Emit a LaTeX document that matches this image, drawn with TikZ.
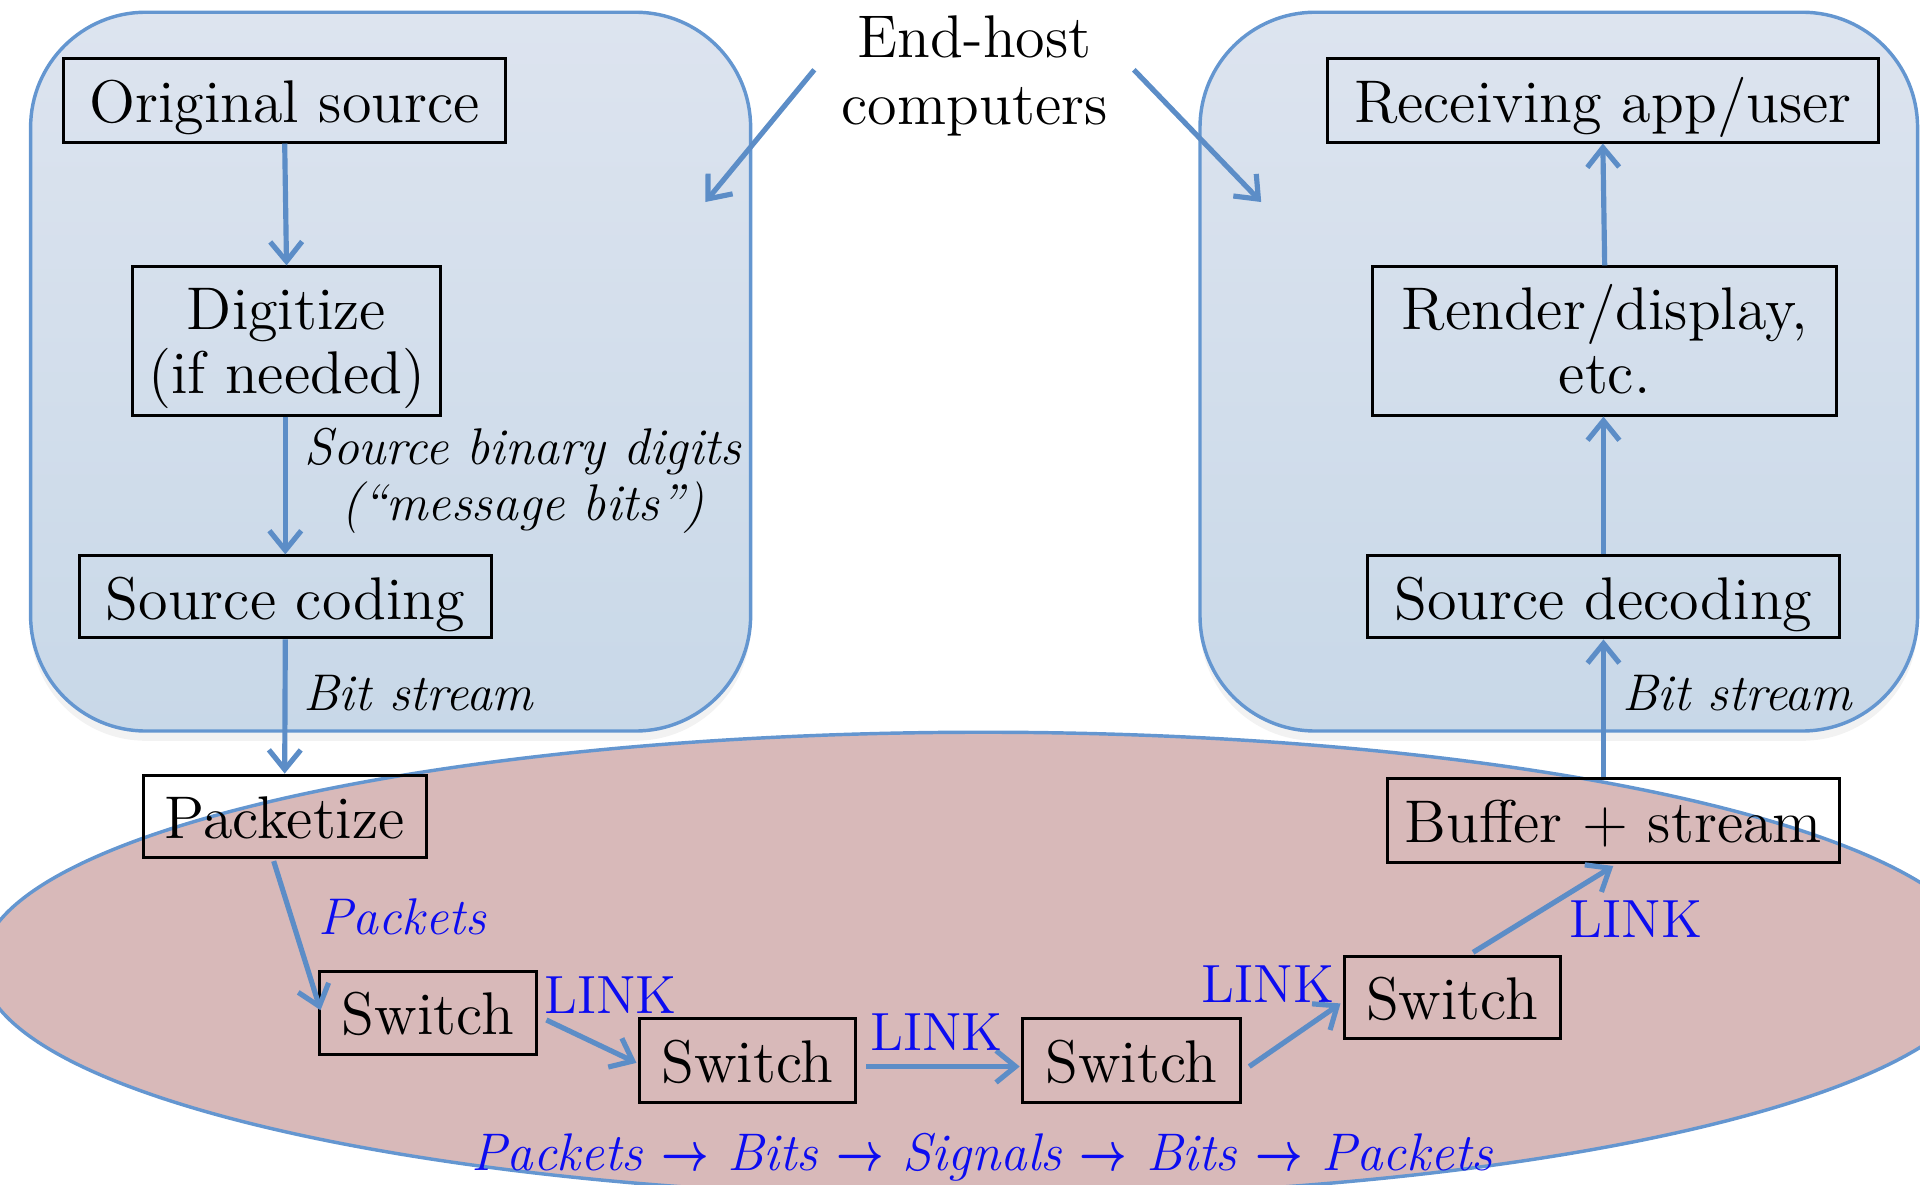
\documentclass[tikz,border=0pt]{standalone}
\usepackage{amsmath}
\usetikzlibrary{arrows.meta,shapes.geometric,calc,shadows}
\definecolor{arrblue}{RGB}{92,141,199}
\definecolor{hostedge}{RGB}{100,150,208}
\definecolor{hosttop}{RGB}{221,228,239}
\definecolor{hostbot}{RGB}{200,216,232}
\definecolor{netfill}{RGB}{216,185,185}
\definecolor{txtblue}{RGB}{12,12,240}
\newcommand{\firstline}{\rule{0pt}{13.1pt}}
\newcommand{\lastline}{\rule[-3.5pt]{0pt}{0pt}}
\newcommand{\seqarrow}{\scalebox{0.8}[1.05]{$\boldsymbol{\rightarrow}$}}
\begin{document}
\begin{tikzpicture}[x=0.1mm,y=-0.1mm,
  box/.style={draw=black,line width=0.7pt,inner sep=0pt,align=center,font=\fontsize{14}{15}\selectfont},
  onebox/.style={box,text height=13pt,text depth=2.7pt},
  conn/.style={draw=arrblue,line width=1.2pt,-{Straight Barb[length=1.6mm,width=2.6mm]}},
  lbl/.style={font=\fontsize{12}{13}\selectfont\itshape,align=center,inner sep=0pt},
  blbl/.style={lbl,text=txtblue},
  linklbl/.style={font=\fontsize{12.5}{14}\selectfont,text=txtblue,inner sep=0pt},
  host/.style={draw=hostedge,line width=0.8pt,top color=hosttop,bottom color=hostbot,rounded corners=9.4mm,
    drop shadow={opacity=0.1,shadow xshift=0mm,shadow yshift=-0.8mm}},
  net/.style={draw=hostedge,line width=0.8pt,fill=netfill}
]
\useasboundingbox (0,0) rectangle (1568,967);

% network ellipse
\path[net] (803,788) ellipse [x radius=81.8mm, y radius=19mm];

% end-host regions
\path[host] (25,10) rectangle (613,597);
\path[host] (980,10) rectangle (1566,597);

% boxes
\node[onebox,minimum width=36.1mm,minimum height=6.8mm] (os) at (232.5,82) {Original source};
\node[box,minimum width=25.2mm,minimum height=12.1mm] (dg) at (234,278.5) {\firstline Digitize\\(if needed)\lastline};
\node[onebox,minimum width=33.6mm,minimum height=6.7mm] (sc) at (233,487.5) {Source coding};
\node[onebox,minimum width=23.1mm,minimum height=6.7mm] (pz) at (232.5,666.5) {Packetize};
\node[onebox,minimum width=17.7mm,minimum height=6.8mm] (s1) at (349.5,827) {Switch};
\node[onebox,minimum width=17.7mm,minimum height=6.8mm] (s2) at (610.5,866) {Switch};
\node[onebox,minimum width=17.8mm,minimum height=6.8mm] (s3) at (924,866) {Switch};
\node[onebox,minimum width=17.6mm,minimum height=6.7mm] (s4) at (1186,814.5) {Switch};
\node[onebox,minimum width=36.9mm,minimum height=6.8mm] (bf) at (1317.5,670) {Buffer + stream};
\node[onebox,minimum width=38.5mm,minimum height=6.7mm] (sd) at (1309.5,487.5) {Source decoding};
\node[box,minimum width=37.9mm,minimum height=12.1mm] (rd) at (1310.5,278.5) {\firstline Render/display,\\etc.\lastline};
\node[onebox,minimum width=45mm,minimum height=6.8mm] (ra) at (1309,82) {Receiving app/user};

% end-host title
\node[font=\fontsize{14}{15.5}\selectfont,align=center,inner sep=0pt] (eh) at (796,62) {End-host\\computers};
\coordinate (ehl) at (665,57);
\coordinate (ehlt) at (576,165);
\coordinate (ehr) at (926,57);
\coordinate (ehrt) at (1030,165);
\draw[conn] (ehl) -- (ehlt);
\draw[conn] (ehr) -- (ehrt);

% connectors
\draw[conn] (os.south) -- (dg.north);
\draw[conn] (dg.south -| sc.north) -- (sc.north);
\draw[conn] (sc.south) -- (pz.north);
\draw[conn] ($(pz.south)+(-9,2)$) -- ($(s1.west)+(2,-2)$);
\draw[conn] ($(s1.east)+(7,6)$) -- ($(s2.west)+(-1,2)$);
\draw[conn] ($(s2.east)+(7,5)$) -- ($(s3.west)+(-1,5)$);
\draw[conn] ($(s3.east)+(6,5)$) -- ($(s4.west)+(-2,5)$);
\draw[conn] ($(s4.north)+(17,-2)$) -- ($(bf.south)+(0,2)$);
\draw[conn] (sd.south |- bf.north) -- (sd.south);
\draw[conn] (sd.north) -- (rd.south -| sd.north);
\draw[conn] (rd.north) -- (ra.south);

% labels
\node[lbl] (sbd) at (427,393) {Source binary digits\\(``message bits'')};
\node[lbl] (bs1) at (341.5,566) {Bit stream};
\node[lbl] (bs2) at (1418.5,566) {Bit stream};
\node[blbl] (pkl) at (328.5,749) {Packets};
\node[linklbl] (l1) at (498.5,813) {LINK};
\node[linklbl] (l2) at (765,843) {LINK};
\node[linklbl] (l3) at (1035.5,804) {LINK};
\node[linklbl] (l4) at (1336,751) {LINK};
\node[blbl,font=\fontsize{12.3}{13}\selectfont\itshape] (seq) at (802,945) {Packets \seqarrow{} Bits \seqarrow{} Signals \seqarrow{} Bits \seqarrow{} Packets};
\end{tikzpicture}
\end{document}
